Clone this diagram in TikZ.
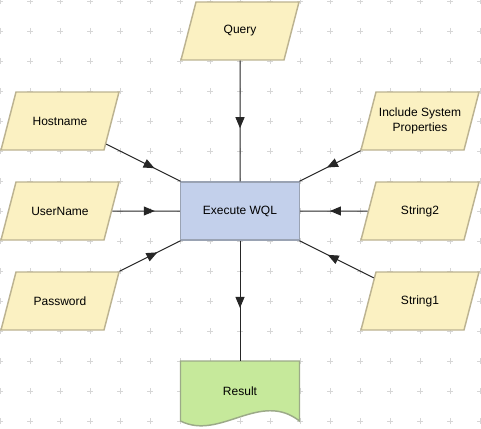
\documentclass[tikz,border=0pt]{standalone}
\usepackage{fontspec}
\setmainfont{Liberation Sans}
\usetikzlibrary{shapes.geometric,arrows.meta,decorations.markings}
\definecolor{parafill}{HTML}{FBF1C2}
\definecolor{paradraw}{HTML}{BCB391}
\definecolor{boxfill}{HTML}{C3D0EB}
\definecolor{boxdraw}{HTML}{9AA3B3}
\definecolor{resfill}{HTML}{C6E99B}
\definecolor{resdraw}{HTML}{9CAA88}
\definecolor{gridc}{HTML}{D6D6D6}
\newcommand{\parabox}[1]{\begin{minipage}[c][43.5pt][c]{66pt}\centering #1\end{minipage}}
\begin{document}
\begin{tikzpicture}[x=0.75pt,y=-0.75pt,
  font=\fontsize{9}{11}\selectfont,
  para/.style={trapezium, trapezium left angle=75.5, trapezium right angle=104.5,
    inner sep=0pt, fill=parafill, draw=paradraw, line width=1.1pt},
  procbox/.style={rectangle, minimum width=89.25pt, minimum height=43.5pt,
    inner sep=0pt, fill=boxfill, draw=boxdraw, line width=1.1pt},
  conn/.style={line width=0.75pt, draw=black!85},
  marrow/.style={postaction={decorate}, decoration={markings,
    mark=at position #1 with {\arrow{Triangle[length=8.25pt,width=6.75pt]}}}}
]
\useasboundingbox (0,0) rectangle (481,428);
% grid
\foreach \gx in {0,30,...,480}
  \foreach \gy in {1,31,...,421}
    \draw[gridc, line width=0.6pt] (\gx-3,\gy) -- (\gx+3,\gy) (\gx,\gy-3) -- (\gx,\gy+3);
% result document shape
\path[fill=resfill, draw=resdraw, line width=1.1pt]
  (180.5,361) -- (299.5,361) -- (299.5,421)
  .. controls (260,390) and (220,441) .. (180.5,421) -- cycle;
% nodes
\node[para] (query) at (240,31) {\parabox{Query}};
\node[para] (host) at (60,121) {\parabox{Hostname}};
\node[para] (user) at (60,211) {\parabox{UserName}};
\node[para] (pass) at (60,301) {\parabox{Password}};
\node[para] (incl) at (420,121) {\parabox{Include System\\Properties}};
\node[para] (str2) at (420,211) {\parabox{String2}};
\node[para] (str1) at (420,301) {\parabox{String1}};
\node[procbox] (exec) at (240,211) {Execute WQL};
\node[minimum width=89.25pt, minimum height=45pt, inner sep=0pt] (result) at (240,391) {Result};
% connectors
\draw[conn, marrow=0.56] (query) -- (exec);
\draw[conn, marrow=0.56] (exec) -- (result);
\draw[conn, marrow=0.65] (host) -- (exec);
\draw[conn, marrow=0.63] (user) -- (exec);
\draw[conn, marrow=0.62] (pass) -- (exec);
\draw[conn, marrow=0.55] (incl) -- (exec);
\draw[conn, marrow=0.56] (str2) -- (exec);
\draw[conn, marrow=0.62] (str1) -- (exec);
\end{tikzpicture}
\end{document}
